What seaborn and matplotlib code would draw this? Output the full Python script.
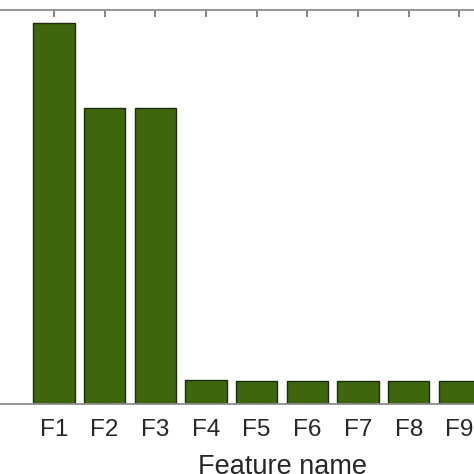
import numpy as np
import pandas as pd
import matplotlib
matplotlib.use('Agg')
import matplotlib.pyplot as plt
import seaborn as sns

# --- data (arbitrary units on a 0-1 scale) ---
features = ['F1', 'F2', 'F3', 'F4', 'F5', 'F6', 'F7', 'F8', 'F9']
importance = [0.966, 0.752, 0.752, 0.061, 0.059, 0.059, 0.059, 0.058, 0.059]

df = pd.DataFrame({'feature': features, 'importance': importance})

sns.set_theme(style='white')
plt.rcParams['font.family'] = ['Liberation Sans', 'DejaVu Sans']

fig = plt.figure(figsize=(4.74, 4.74), dpi=100)
# axes run past the figure edges (the reference is a crop)
ax = fig.add_axes([-22 / 474, 70 / 474, 608 / 474, 394 / 474])

sns.barplot(data=df, x='feature', y='importance', color='#3e660c',
            saturation=1, width=0.81, edgecolor='#1c2a10', linewidth=1.0, ax=ax)

ax.set_xlim(-1.5, 10.5)
ax.set_ylim(0, 1)
ax.set_yticks([])
ax.set_ylabel('')
ax.set_xlabel('Feature name', fontsize=19.5, color='#262626', labelpad=9)

for s in ax.spines.values():
    s.set_visible(True)
    s.set_color('#8c8c8c')
    s.set_linewidth(1.3)

ax.tick_params(axis='x', direction='in', length=5, width=1.2, color='#6f6f6f',
               top=True, bottom=True, labelsize=17.5, labelcolor='#262626', pad=11)

fig.savefig('out.png', dpi=100)
